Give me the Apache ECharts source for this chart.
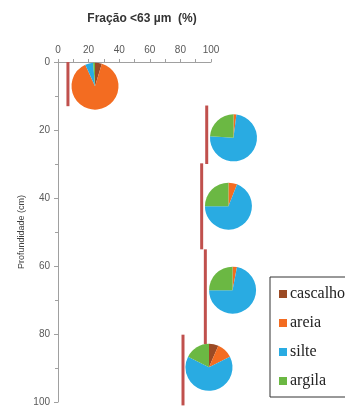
<!DOCTYPE html>
<html><head><meta charset="utf-8">
<script src="https://cdn.jsdelivr.net/npm/echarts@6/dist/echarts.min.js"></script>
<style>html,body{margin:0;padding:0;background:#fff}#c{width:345px;height:407px}</style>
</head><body><div id="c"></div>
<script>
// Fraction <63 µm (%) per depth interval
var fracValue = [6.5, 97.2, 93.9, 96.3, 81.7];
var depthTop = [0, 12.8, 29.8, 55.1, 80.2];
var depthBottom = [13, 30, 55.1, 83, 101];
// pie placement in data units (x %, depth cm)
var pieX = [24.2, 114.7, 111.4, 114.1, 98.7];
var pieDepth = [7.1, 22.3, 42.4, 67.1, 89.8];
// composition classes and their shares (%)
var classes = ['cascalho', 'areia', 'silte', 'argila'];
var cascalho = [4.7, 0, 0, 0, 6.5];
var areia = [88.5, 2, 6, 3, 11];
var silte = [5.5, 74, 69, 72, 65];
var argila = [1.3, 24, 25, 25, 17.5];
var xTicks = [0, 20, 40, 60, 80, 100];
var yTicks = [0, 20, 40, 60, 80, 100];

var colors = ['#9b4a24', '#f36c21', '#29abe2', '#6bb843'];
var chart = echarts.init(document.getElementById('c'), null, {renderer: 'canvas'});

var segData = fracValue.map(function (v, i) { return [v, depthTop[i], depthBottom[i]]; });

function pieSeries(centers) {
  return fracValue.map(function (v, i) {
    return {
      type: 'pie',
      radius: 23.5,
      center: centers ? centers[i] : [0, 0],
      startAngle: 90,
      clockwise: true,
      silent: true,
      label: {show: false},
      labelLine: {show: false},
      itemStyle: {borderWidth: 0},
      emphasis: {disabled: true},
      z: 3,
      data: [
        {name: classes[0], value: cascalho[i]},
        {name: classes[1], value: areia[i]},
        {name: classes[2], value: silte[i]},
        {name: classes[3], value: argila[i]}
      ]
    };
  });
}

var axisLabelStyle = {color: '#595959', fontSize: 10, fontFamily: 'Liberation Sans, Arial, sans-serif'};
var option = {
  animation: false,
  color: colors,
  title: {
    text: 'Fração <63 µm  (%)',
    left: 137, top: 8, textAlign: 'center',
    textStyle: {fontSize: 12, fontWeight: 'bold', color: '#333', fontFamily: 'Liberation Sans, Arial, sans-serif'}
  },
  legend: {
    data: classes,
    orient: 'vertical',
    left: 270, top: 277,
    padding: [9, 30, 8, 9],
    itemWidth: 8, itemHeight: 8,
    itemGap: 13,
    icon: 'rect',
    borderColor: '#333', borderWidth: 1,
    textStyle: {fontFamily: 'Liberation Serif, Times New Roman, serif', fontSize: 16, color: '#222', padding: [0, 0, 0, -2]},
    selectedMode: false
  },
  grid: {left: 58, right: 134, top: 62, bottom: 2, containLabel: false},
  xAxis: {
    type: 'value', position: 'top', min: 0, max: 100, interval: 20,
    axisLine: {show: true, lineStyle: {color: '#a0a0a0'}},
    axisTick: {show: true, length: 3, lineStyle: {color: '#a0a0a0'}},
    minorTick: {show: true, splitNumber: 2, length: 3, lineStyle: {color: '#a0a0a0'}},
    splitLine: {show: false},
    axisLabel: Object.assign({margin: 7}, axisLabelStyle)
  },
  yAxis: {
    type: 'value', inverse: true, min: 0, max: 100, interval: 20,
    name: 'Profundidade (cm)', nameLocation: 'middle', nameGap: 32,
    nameTextStyle: {fontSize: 9, color: '#404040', fontFamily: 'Liberation Sans, Arial, sans-serif'},
    axisLine: {show: true, lineStyle: {color: '#a0a0a0'}},
    axisTick: {show: true, length: 4, lineStyle: {color: '#a0a0a0'}},
    minorTick: {show: true, splitNumber: 2, length: 3, lineStyle: {color: '#a0a0a0'}},
    splitLine: {show: false},
    axisLabel: Object.assign({margin: 8}, axisLabelStyle)
  },
  series: [{
    type: 'custom',
    name: 'fracao',
    clip: false,
    silent: true,
    z: 2,
    data: segData,
    renderItem: function (params, api) {
      var p1 = api.coord([api.value(0), api.value(1)]);
      var p2 = api.coord([api.value(0), api.value(2)]);
      return {
        type: 'line',
        shape: {x1: p1[0], y1: p1[1], x2: p2[0], y2: p2[1]},
        style: {stroke: '#c0504d', lineWidth: 3}
      };
    }
  }].concat(pieSeries(null))
};
chart.setOption(option);
var centers = pieX.map(function (x, i) {
  return chart.convertToPixel({gridIndex: 0}, [x, pieDepth[i]]);
});
var newSeries = option.series.slice(0, 1).concat(pieSeries(centers));
chart.setOption({series: newSeries});
</script></body></html>
